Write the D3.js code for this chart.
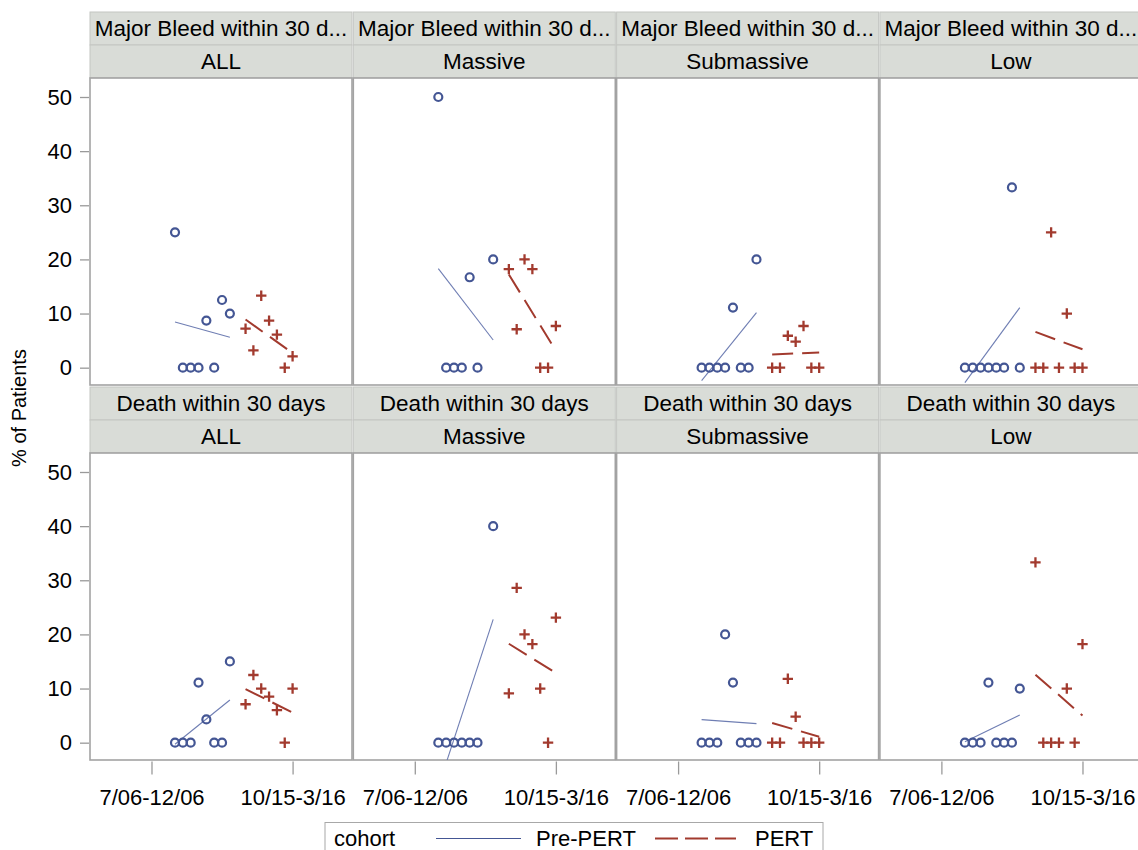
<!DOCTYPE html>
<html><head><meta charset="utf-8">
<script src="https://cdn.jsdelivr.net/npm/d3@7"></script>
<style>
html,body{margin:0;padding:0;background:#fff;}
svg{display:block;font-family:"Liberation Sans",Arial,sans-serif;}
</style></head>
<body>
<svg id="chart" width="1138" height="850"></svg>
<script>
// ---------- data ----------
const groups = ["ALL", "Massive", "Submassive", "Low"];
const outcomes = ["Major Bleed within 30 d...", "Death within 30 days"];
const xTickValues = [0, 18];
const xTickLabels = ["7/06-12/06", "10/15-3/16"];
const yTickValues = [0, 10, 20, 30, 40, 50];
const prePeriods = [3, 4, 5, 6, 7, 8, 9, 10];
const pertPeriods = [12, 13, 14, 15, 16, 17, 18];
const cohorts = ["Pre-PERT", "PERT"];

// Major bleed within 30 days (% of patients), null = no patients in period
const bleedPreAll  = [25, 0, 0, 0, 8.7, 0, 12.5, 10];
const bleedPertAll = [7.2, 3.2, 13.3, 8.7, 6.1, 0, 2.1];
const bleedPreMassive  = [50, 0, 0, 0, 16.7, 0, null, 20];
const bleedPertMassive = [18.2, 7.1, 20, 18.2, 0, 0, 7.7];
const bleedPreSub  = [0, 0, 0, 0, 11.1, 0, 0, 20];
const bleedPertSub = [0, 0, 5.9, 4.8, 7.7, 0, 0];
const bleedPreLow  = [0, 0, 0, 0, 0, 0, 33.3, 0];
const bleedPertLow = [0, 0, 25, 0, 10, 0, 0];

// Death within 30 days (% of patients)
const deathPreAll  = [0, 0, 0, 11.1, 4.3, 0, 0, 15];
const deathPertAll = [7.1, 12.5, 10, 8.5, 6, 0, 10];
const deathPreMassive  = [0, 0, 0, 0, 0, 0, null, 40];
const deathPertMassive = [9.1, 28.6, 20, 18.2, 10, 0, 23.1];
const deathPreSub  = [0, 0, 0, 20, 11.1, 0, 0, 0];
const deathPertSub = [0, 0, 11.8, 4.8, 0, 0, 0];
const deathPreLow  = [0, 0, 0, 11.1, 0, 0, 0, 10];
const deathPertLow = [33.3, 0, 0, 0, 10, 0, 18.2];

const panelData = [
  [[bleedPreAll, bleedPertAll], [bleedPreMassive, bleedPertMassive], [bleedPreSub, bleedPertSub], [bleedPreLow, bleedPertLow]],
  [[deathPreAll, deathPertAll], [deathPreMassive, deathPertMassive], [deathPreSub, deathPertSub], [deathPreLow, deathPertLow]]
];

// ---------- layout ----------
const colLeft0 = 90, colPitch = 263.3, panelW = 262;
const rowTop0 = 12, rowPitch = 375, headerH = 33, plotH = 307;
const font = 22;
const blue = "#445694", blueLine = "#6f7eb3", red = "#a23a2e";
const borderCol = "#a3a3a3";

const svg = d3.select("#chart");

const x = d3.scaleLinear().domain([-7.845, 25.58]).range([0, panelW]);
const y = d3.scaleLinear().domain([-3.2, 53.51]).range([plotH, 0]);

function fit(xs, ys) {
  const pts = xs.map((v, i) => [v, ys[i]]).filter(p => p[1] != null);
  const mx = d3.mean(pts, p => p[0]), my = d3.mean(pts, p => p[1]);
  let sxy = 0, sxx = 0;
  pts.forEach(p => { sxy += (p[0] - mx) * (p[1] - my); sxx += (p[0] - mx) ** 2; });
  const b = sxy / sxx, a = my - b * mx;
  const x0 = d3.min(pts, p => p[0]), x1 = d3.max(pts, p => p[0]);
  return [[x0, a + b * x0], [x1, a + b * x1]];
}

outcomes.forEach((oc, r) => {
  const top = rowTop0 + r * rowPitch;
  groups.forEach((g, c) => {
    const left = colLeft0 + c * colPitch;
    // headers
    const hg = svg.append("g").attr("transform", `translate(${left},${top})`);
    hg.append("rect").attr("x", 0).attr("y", 0).attr("width", panelW).attr("height", headerH)
      .attr("fill", "#d9dcd7").attr("stroke", "#c4c6c2").attr("stroke-width", 1);
    hg.append("rect").attr("x", 0).attr("y", headerH).attr("width", panelW).attr("height", headerH)
      .attr("fill", "#d9dcd7").attr("stroke", "#c4c6c2").attr("stroke-width", 1);
    hg.append("text").attr("x", panelW / 2).attr("y", headerH / 2).attr("dy", "0.35em")
      .attr("text-anchor", "middle").attr("font-size", 22.5).attr("fill", "#000").text(oc);
    hg.append("text").attr("x", panelW / 2).attr("y", headerH * 1.5).attr("dy", "0.35em")
      .attr("text-anchor", "middle").attr("font-size", 22.5).attr("fill", "#000").text(g);

    // plot area
    const pg = svg.append("g").attr("transform", `translate(${left},${top + 2 * headerH})`);
    const clipId = `clip-${r}-${c}`;
    pg.append("clipPath").attr("id", clipId).append("rect")
      .attr("x", 0).attr("y", 0).attr("width", panelW).attr("height", plotH);
    pg.append("rect").attr("x", 0).attr("y", 0).attr("width", panelW).attr("height", plotH)
      .attr("fill", "#fff").attr("stroke", borderCol).attr("stroke-width", 1.6);

    const [preVals, pertVals] = panelData[r][c];
    const inner = pg.append("g").attr("clip-path", `url(#${clipId})`);
    const line = d3.line().x(d => x(d[0])).y(d => y(d[1]));

    inner.append("path").attr("d", line(fit(prePeriods, preVals)))
      .attr("fill", "none").attr("stroke", blueLine).attr("stroke-width", 1.1);
    inner.append("path").attr("d", line(fit(pertPeriods, pertVals)))
      .attr("fill", "none").attr("stroke", red).attr("stroke-width", 2).attr("stroke-dasharray", "21,9");

    const prePts = prePeriods.map((p, i) => [p, preVals[i]]).filter(d => d[1] != null);
    inner.selectAll("circle.pre").data(prePts).join("circle").attr("class", "pre")
      .attr("cx", d => x(d[0])).attr("cy", d => y(d[1])).attr("r", 4)
      .attr("fill", "none").attr("stroke", blue).attr("stroke-width", 2.2);

    const pertPts = pertPeriods.map((p, i) => [p, pertVals[i]]).filter(d => d[1] != null);
    inner.selectAll("path.pert").data(pertPts).join("path").attr("class", "pert")
      .attr("d", d => { const cx = x(d[0]), cy = y(d[1]), s = 5.2; return `M${cx - s},${cy}H${cx + s}M${cx},${cy - s}V${cy + s}`; })
      .attr("fill", "none").attr("stroke", red).attr("stroke-width", 2.3);

    // x axis on the bottom row
    if (r === outcomes.length - 1) {
      const xa = svg.append("g").attr("transform", `translate(${left},${top + 2 * headerH + plotH + 1.5})`)
        .call(d3.axisBottom(x).tickValues(xTickValues).tickFormat((d, i) => xTickLabels[i])
          .tickSize(13).tickPadding(15).tickSizeOuter(0));
      xa.select(".domain").remove();
      xa.selectAll("line").attr("stroke", "#9a9a9a").attr("stroke-width", 1.3);
      xa.selectAll("text").attr("font-size", font).attr("fill", "#000").attr("font-family", "Liberation Sans, Arial, sans-serif");
    }
  });
  // y axis per row
  const ya = svg.append("g").attr("transform", `translate(${colLeft0 - 1},${top + 2 * headerH})`)
    .call(d3.axisLeft(y).tickValues(yTickValues).tickSize(9).tickPadding(8).tickSizeOuter(0));
  ya.select(".domain").remove();
  ya.selectAll("line").attr("stroke", "#9a9a9a").attr("stroke-width", 1.3);
  ya.selectAll("text").attr("font-size", font).attr("fill", "#000").attr("font-family", "Liberation Sans, Arial, sans-serif");
});

// y axis title
svg.append("text").attr("transform", "translate(26,408) rotate(-90)")
  .attr("text-anchor", "middle").attr("font-size", 20).attr("fill", "#000").text("% of Patients");

// legend
const lg = svg.append("g");
lg.append("rect").attr("x", 325).attr("y", 822.5).attr("width", 498).attr("height", 40)
  .attr("fill", "#fff").attr("stroke", "#a8a8a8").attr("stroke-width", 1);
lg.append("text").attr("x", 334).attr("y", 846).attr("font-size", font).attr("fill", "#000").text("cohort");
lg.append("line").attr("x1", 436).attr("x2", 521).attr("y1", 838.5).attr("y2", 838.5)
  .attr("stroke", blue).attr("stroke-width", 1.1);
lg.append("text").attr("x", 536).attr("y", 846).attr("font-size", font).attr("fill", "#000").text(cohorts[0]);
lg.append("line").attr("x1", 655).attr("x2", 736).attr("y1", 838.5).attr("y2", 838.5)
  .attr("stroke", red).attr("stroke-width", 2).attr("stroke-dasharray", "23,7");
lg.append("text").attr("x", 755).attr("y", 846).attr("font-size", font).attr("fill", "#000").text(cohorts[1]);
</script>
</body></html>
